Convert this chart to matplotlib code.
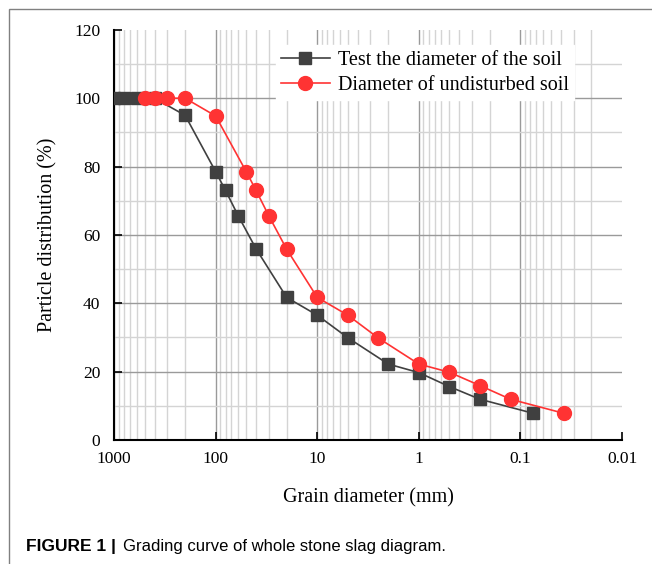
import numpy as np
import matplotlib.pyplot as plt
from matplotlib.ticker import FixedLocator, LogLocator, NullFormatter
from matplotlib.patches import Rectangle

# grain sizes (mm) and passing percentages
test_d = [1000, 800, 600, 400, 200, 100, 80, 60, 40, 20, 10, 5, 2, 1, 0.5, 0.25, 0.075]
test_p = [100, 100, 100, 100, 95, 78.5, 73, 65.6, 55.9, 41.7, 36.5, 29.9, 22.2, 19.7, 15.6, 11.9, 7.8]

undist_d = [500, 400, 300, 200, 100, 50, 40, 30, 20, 10, 5, 2.5, 1, 0.5, 0.25, 0.125, 0.0375]
undist_p = [100, 100, 100, 100, 94.8, 78.5, 73, 65.6, 55.8, 41.7, 36.5, 29.8, 22.2, 19.8, 15.9, 11.9, 7.8]

x_ticks = [1000, 100, 10, 1, 0.1, 0.01]
x_labels = ['1000', '100', '10', '1', '0.1', '0.01']
y_ticks = [0, 20, 40, 60, 80, 100, 120]

plt.rcParams['font.family'] = ['Liberation Serif', 'DejaVu Serif']

fig = plt.figure(figsize=(6.52, 5.64), dpi=100)
ax = fig.add_axes([0.175, 0.22, 0.779, 0.727])

ax.plot(test_d, test_p, color='#404040', lw=1.2, marker='s', ms=8.5,
        label='Test the diameter of the soil', zorder=3)
ax.plot(undist_d, undist_p, color='#ff3333', lw=1.2, marker='o', ms=10,
        label='Diameter of undisturbed soil', zorder=4)

ax.set_xscale('log')
ax.set_xlim(1000, 0.01)
ax.set_ylim(0, 120)

ax.xaxis.set_major_locator(FixedLocator(x_ticks))
ax.set_xticklabels(x_labels)
ax.xaxis.set_minor_locator(LogLocator(base=10, subs=np.arange(2, 10)))
ax.xaxis.set_minor_formatter(NullFormatter())
ax.set_yticks(y_ticks)
ax.set_yticks(np.arange(10, 120, 20), minor=True)

ax.grid(which='major', color='#9a9a9a', lw=1.0)
ax.grid(which='minor', color='#d4d4d4', lw=1.0)
# no grid lines along the plot edges
for gl in ax.yaxis.get_gridlines()[-1:] + ax.xaxis.get_gridlines()[-1:]:
    gl.set_visible(False)
ax.set_axisbelow(True)

ax.tick_params(which='major', direction='in', length=6, width=1.2, labelsize=12.5)
ax.tick_params(which='minor', length=0)
ax.tick_params(axis='y', pad=10)
ax.tick_params(axis='x', pad=8)
for s in ['top', 'right']:
    ax.spines[s].set_visible(False)
for s in ['left', 'bottom']:
    ax.spines[s].set_linewidth(1.5)

ax.set_xlabel('Grain diameter (mm)', fontsize=14.5, labelpad=15)
ax.set_ylabel('Particle distribution (%)', fontsize=14.5, labelpad=12)

leg = ax.legend(loc='upper right', bbox_to_anchor=(0.905, 0.962), fontsize=14.5,
                frameon=True, fancybox=False, edgecolor='white', framealpha=1,
                handlelength=2.4, handletextpad=0.4, borderpad=0.25,
                labelspacing=0.3, borderaxespad=0)

fig.patches.append(Rectangle((9 / 652, -0.1), 1.2, 1.1 - 9 / 564, transform=fig.transFigure,
                             fill=False, edgecolor='#808080', lw=1.0))
fig.text(26 / 652, 1 - 546 / 564, 'FIGURE 1 |', fontsize=12.5, fontweight='bold',
         family=['Liberation Sans', 'DejaVu Sans'], va='center')
fig.text(123 / 652, 1 - 546 / 564, 'Grading curve of whole stone slag diagram.', fontsize=12,
         family=['Liberation Sans', 'DejaVu Sans'], va='center')

fig.savefig('out.png', dpi=100)
